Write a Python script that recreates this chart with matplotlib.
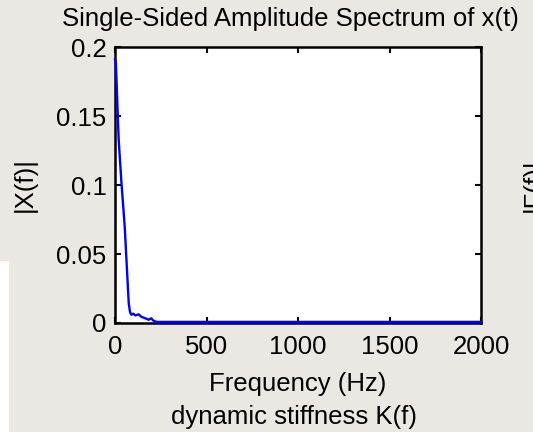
import matplotlib
matplotlib.use("Agg")
import matplotlib.pyplot as plt
from matplotlib.patches import Rectangle

plt.rcParams['font.family'] = ['Liberation Sans', 'DejaVu Sans']

# Data
freq_hz = [0, 5, 20, 34, 53, 75, 82, 89, 100, 111, 129, 144, 166, 184, 198, 211, 230, 2000]
amplitude = [0.191, 0.188, 0.133, 0.104, 0.070, 0.0145, 0.008, 0.006, 0.0068, 0.0055,
             0.0063, 0.0045, 0.0034, 0.0024, 0.0034, 0.0015, 0.0008, 0.0008]

xticks = [0, 500, 1000, 1500, 2000]
xtick_labels = ['0', '500', '1000', '1500', '2000']
yticks = [0, 0.05, 0.1, 0.15, 0.2]
ytick_labels = ['0', '0.05', '0.1', '0.15', '0.2']

bg = '#EBE8E3'
fs = 18.5

fig = plt.figure(figsize=(5.33, 4.32), dpi=100, facecolor=bg)
fig.patches.append(Rectangle((0, 0), 9 / 533, (432 - 261) / 432, transform=fig.transFigure,
                             facecolor='white', edgecolor='none', zorder=0))

ax = fig.add_axes([115 / 533, 1 - 323 / 432, (481 - 115) / 533, (323 - 47) / 432])
ax.set_facecolor('white')
ax.plot(freq_hz, amplitude, color='#0000FF', linewidth=1.7, clip_on=False, zorder=5)
ax.set_xlim(0, 2000)
ax.set_ylim(0, 0.2)
ax.set_xticks(xticks)
ax.set_xticklabels(xtick_labels)
ax.set_yticks(yticks)
ax.set_yticklabels(ytick_labels)
ax.tick_params(direction='in', length=4, width=1.5, top=True, right=True,
               labelsize=fs, colors='black')
ax.tick_params(axis='x', pad=9)
ax.tick_params(axis='y', pad=6)
for s in ax.spines.values():
    s.set_linewidth(1.8)
    s.set_color('black')

ax.set_title('Single-Sided Amplitude Spectrum of x(t)', fontsize=fs, pad=15,
             x=0.5 - 8 / 366)
ax.set_xlabel('Frequency (Hz)', fontsize=fs, labelpad=9)
ax.set_ylabel('|X(f)|', fontsize=fs, labelpad=14)

fig.text(294 / 533, 1 - 424 / 432, 'dynamic stiffness K(f)', fontsize=fs,
         ha='center', va='baseline')
fig.text(522 / 533, 1 - 185 / 432, '|F(f)|', fontsize=fs, rotation=90,
         ha='left', va='center')

fig.savefig('out.png', dpi=100, facecolor=bg)
